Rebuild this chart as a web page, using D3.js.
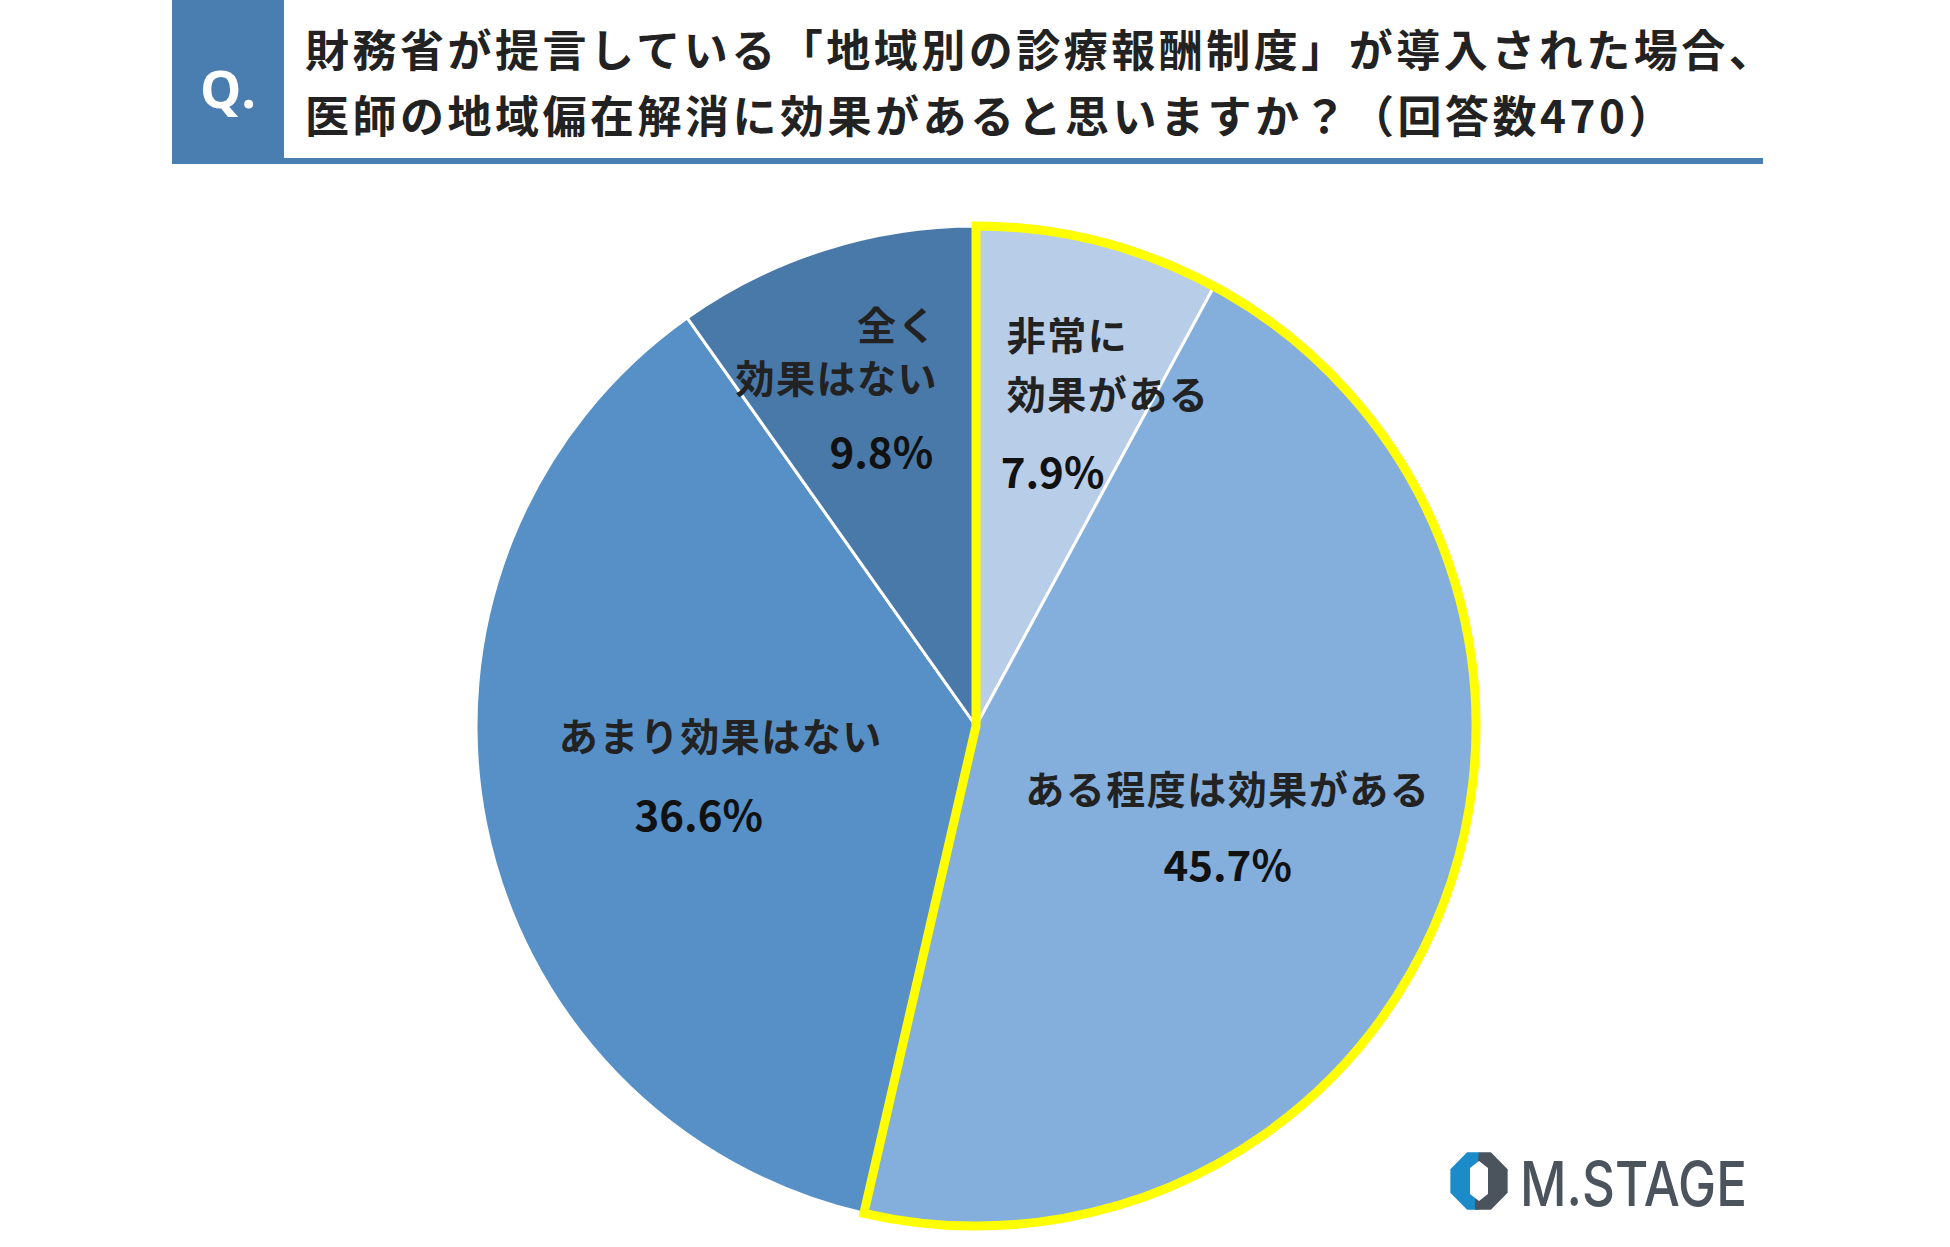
<!DOCTYPE html>
<html>
<head>
<meta charset="utf-8">
<script src="https://cdn.jsdelivr.net/npm/d3@7"></script>
<style>
  body { margin: 0; background: #fff; }
  text { font-family: "Noto Sans CJK JP", "Noto Sans", sans-serif; }
</style>
</head>
<body>
<div id="chart"></div>
<script>
// data
var titleLines = [
	"財務省が提言している「地域別の診療報酬制度」が導入された場合、",
	"医師の地域偏在解消に効果があると思いますか？（回答数470）"
];
var categories = ["非常に\n効果がある", "ある程度は効果がある", "あまり効果はない", "全く\n効果はない"];
var values = [7.9, 45.7, 36.6, 9.8];
var colors = ["#b7cde8", "#84aedb", "#5690c7", "#4979a9"];
var highlighted = [0, 1]; // slices wrapped by the yellow outline

var width = 1950, height = 1247;
var center = { x: 976, y: 726 };
var radius = 500;

var svg = d3.select("#chart").append("svg")
		.attr("width", width)
		.attr("height", height);

// header
svg.append("rect")
	.attr("x", 172).attr("y", 0)
	.attr("width", 112).attr("height", 164)
	.attr("fill", "#4a7db0");

svg.append("rect")
	.attr("x", 172).attr("y", 158)
	.attr("width", 1591).attr("height", 6)
	.attr("fill", "#4a7db0");

svg.append("text")
	.attr("x", 228).attr("y", 87)
	.attr("text-anchor", "middle")
	.attr("dominant-baseline", "central")
	.attr("fill", "#fff")
	.attr("font-size", 52)
	.attr("font-weight", 700)
	.style("font-family", "'Open Sans', 'Noto Sans', sans-serif")
	.text("Q.");

svg.selectAll(".title").data(titleLines)
	.enter().append("text")
		.attr("class", "title")
		.attr("x", 305)
		.attr("y", function(d,i){ return 48 + i * 66; })
		.attr("dominant-baseline", "central")
		.attr("font-size", 44)
		.attr("font-weight", 700)
		.attr("letter-spacing", 3.5)
		.attr("fill", "#222")
		.text(function(d){ return d; });

// pie
var pie = d3.pie().sort(null).value(function(d){ return d; });
var arcs = pie(values);
var arc = d3.arc().innerRadius(0).outerRadius(radius);
var labelArc = d3.arc().innerRadius(radius * 0.6).outerRadius(radius * 0.6);

var g = svg.append("g")
	.attr("transform", "translate(" + center.x + "," + center.y + ")");

g.selectAll(".slice").data(arcs)
	.enter().append("path")
		.attr("class", "slice")
		.attr("d", arc)
		.attr("fill", function(d,i){ return colors[i]; })
		.attr("stroke", "#fff")
		.attr("stroke-width", 3)
		.attr("stroke-linejoin", "round");

// yellow outline round the "effective" slices
var hl = {
	startAngle: arcs[highlighted[0]].startAngle,
	endAngle: arcs[highlighted[highlighted.length - 1]].endAngle
};
g.append("path")
	.attr("d", arc(hl))
	.attr("fill", "none")
	.attr("stroke", "#ffff00")
	.attr("stroke-width", 9)
	.attr("stroke-linejoin", "miter");

// label lines: offsets from the slice centroid
var labelLayout = [
	{ anchor: "start",  lines: [[-43, -102], [-43, -43]], pct: [-49, 34] },
	{ anchor: "middle", lines: [[-29, -45]],              pct: [-29, 30] },
	{ anchor: "middle", lines: [[39, -50]],               pct: [17, 28] },
	{ anchor: "end",    lines: [[53, -117], [53, -64]],   pct: [48, 9] }
];

arcs.forEach(function(d,i){
	var c = labelArc.centroid(d);
	var lay = labelLayout[i];
	var parts = categories[i].split("\n");
	parts.forEach(function(t,j){
		g.append("text")
			.attr("x", c[0] + lay.lines[j][0])
			.attr("y", c[1] + lay.lines[j][1])
			.attr("text-anchor", lay.anchor)
			.attr("dominant-baseline", "central")
			.attr("font-size", 39)
			.attr("font-weight", 700)
			.attr("letter-spacing", 1.5)
			.attr("fill", "#222")
			.text(t);
	});
	g.append("text")
		.attr("x", c[0] + lay.pct[0])
		.attr("y", c[1] + lay.pct[1])
		.attr("text-anchor", lay.anchor)
		.attr("dominant-baseline", "central")
		.attr("font-size", 42)
		.attr("font-weight", 700)
		.attr("fill", "#111")
		.text(values[i].toFixed(1) + "%");
});

// logo
var logo = svg.append("g").attr("transform", "translate(1479,1181)");
var oct = d3.range(8).map(function(k){
	var a = Math.PI / 8 + k * Math.PI / 4;
	return [31 * Math.cos(a), 31 * Math.sin(a)];
});
var defs = svg.append("defs");
defs.append("clipPath").attr("id", "octClip")
	.append("path").attr("d", "M" + oct.join("L") + "Z");
logo.append("rect")
	.attr("x", -32).attr("y", -32).attr("width", 32).attr("height", 64)
	.attr("fill", "#1b8bc9").attr("clip-path", "url(#octClip)");
logo.append("path")
	.attr("d", "M0,-32 L32,-32 L32,32 L-4,32 L-4,20 L0,-32 Z")
	.attr("fill", "#4b545d").attr("clip-path", "url(#octClip)");
logo.append("path")
	.attr("d", "M-9,-13 L0,-20 L9,-13 L9,13 L0,20 L-9,13 Z")
	.attr("fill", "#fff");
logo.append("text")
	.attr("x", 41).attr("y", 2)
	.attr("dominant-baseline", "central")
	.attr("font-size", 62)
	.attr("font-weight", 500)
	.attr("fill", "#4b545d")
	.attr("textLength", 227)
	.attr("lengthAdjust", "spacingAndGlyphs")
	.style("font-family", "Inter, 'Open Sans', sans-serif")
	.text("M.STAGE");
</script>
</body>
</html>
